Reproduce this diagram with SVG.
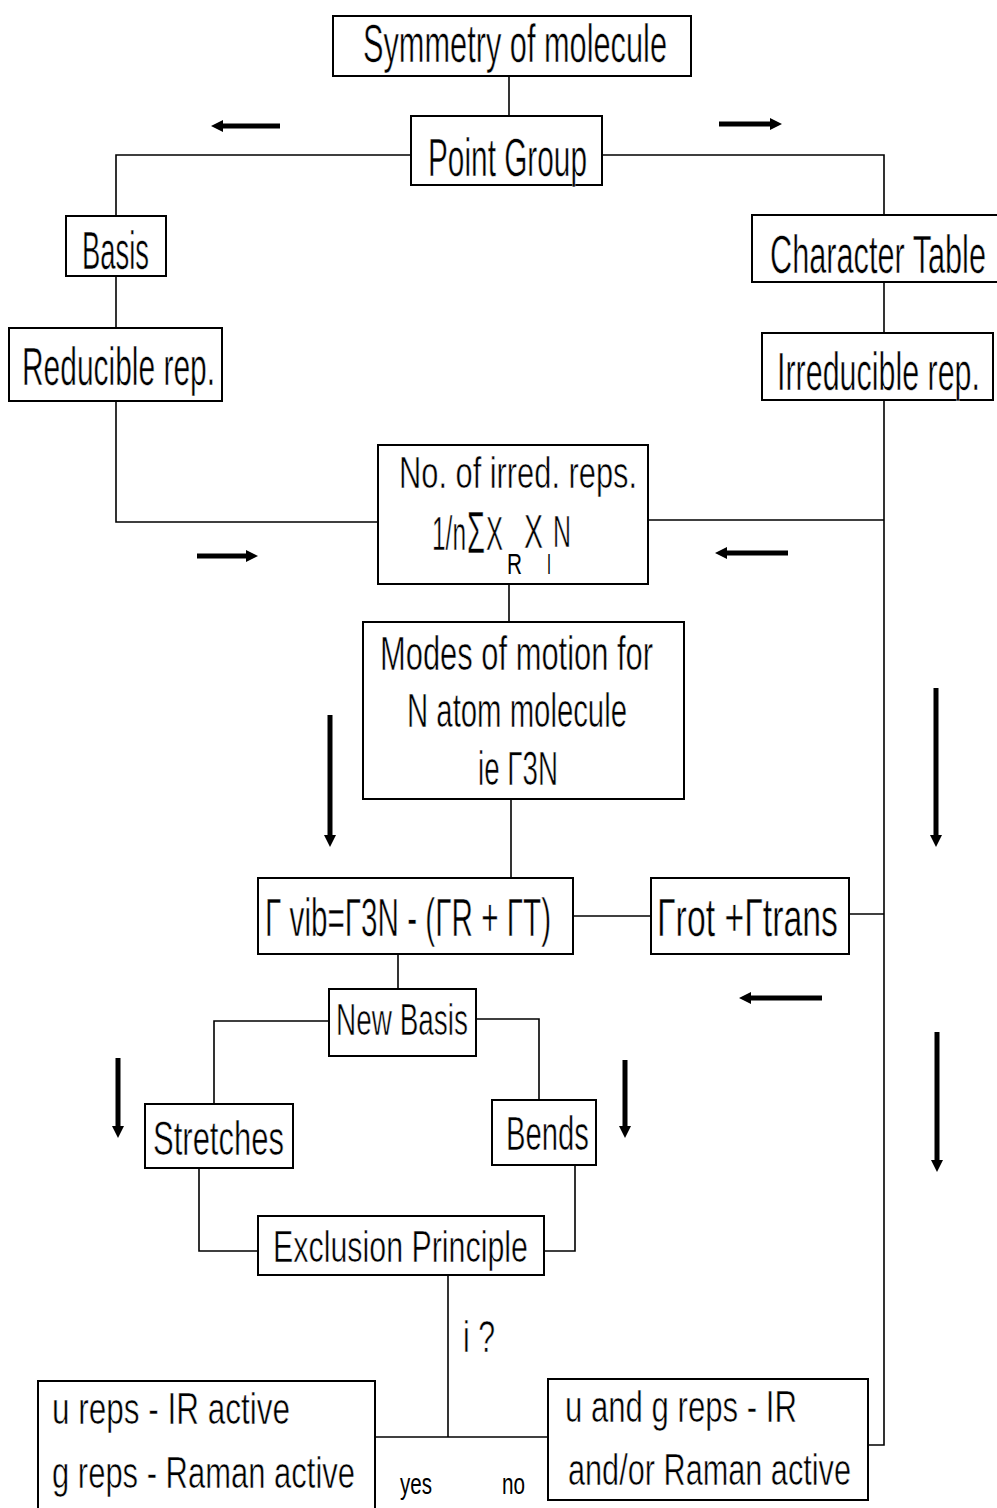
<svg xmlns="http://www.w3.org/2000/svg" width="997" height="1508" viewBox="0 0 997 1508">
<style>
.box{fill:#fff;stroke:#000;stroke-width:2}
.ln{fill:none;stroke:#000;stroke-width:1.6}
.ar{fill:none;stroke:#000;stroke-width:5}
text{font-family:"Liberation Sans",Arial,sans-serif;fill:#000;stroke:#fff;stroke-width:0.6}
.t{font-size:54px}
.m{font-size:48px}
.s{font-size:44px}
.xs{font-size:30px;stroke:none}
</style>
<defs>
<marker id="ah" markerUnits="userSpaceOnUse" markerWidth="14" markerHeight="14" refX="4" refY="7" orient="auto">
<path d="M0,1 L12,7 L0,13 Z" fill="#000"/>
</marker>
</defs>
<rect width="997" height="1508" fill="#fff"/>
<g id="connectors">
<path class="ln" d="M509,76 V116"/>
<path class="ln" d="M410,155 H116 V216"/>
<path class="ln" d="M602,155 H884 V215"/>
<path class="ln" d="M116,276 V328"/>
<path class="ln" d="M116,401 V522 H378"/>
<path class="ln" d="M884,283 V333"/>
<path class="ln" d="M884,400 V1445 H868"/>
<path class="ln" d="M884,520 H648"/>
<path class="ln" d="M884,914 H849"/>
<path class="ln" d="M509,584 V622"/>
<path class="ln" d="M511,799 V878"/>
<path class="ln" d="M573,916 H651"/>
<path class="ln" d="M398,954 V989"/>
<path class="ln" d="M329,1021 H214 V1104"/>
<path class="ln" d="M476,1019 H539 V1100"/>
<path class="ln" d="M199,1168 V1251 H258"/>
<path class="ln" d="M575,1165 V1251 H544"/>
<path class="ln" d="M448,1275 V1437"/>
<path class="ln" d="M375,1437 H548"/>
<path class="ar" d="M280,126 H219" marker-end="url(#ah)"/>
<path class="ar" d="M719,124 H774" marker-end="url(#ah)"/>
<path class="ar" d="M197,556 H250" marker-end="url(#ah)"/>
<path class="ar" d="M788,553 H723" marker-end="url(#ah)"/>
<path class="ar" d="M330,715 V839" marker-end="url(#ah)"/>
<path class="ar" d="M936,688 V839" marker-end="url(#ah)"/>
<path class="ar" d="M822,998 H747" marker-end="url(#ah)"/>
<path class="ar" d="M118,1058 V1130" marker-end="url(#ah)"/>
<path class="ar" d="M625,1060 V1130" marker-end="url(#ah)"/>
<path class="ar" d="M937,1032 V1164" marker-end="url(#ah)"/>
</g>
<g id="symmetry">
<rect class="box" x="333" y="16" width="358" height="60"/>
<text class="t" x="363" y="62" textLength="304" lengthAdjust="spacingAndGlyphs">Symmetry of molecule</text>
</g>
<g id="pointgroup">
<rect class="box" x="411" y="116" width="191" height="69"/>
<text class="t" x="428" y="176" textLength="159" lengthAdjust="spacingAndGlyphs">Point Group</text>
</g>
<g id="basis">
<rect class="box" x="66" y="216" width="100" height="60"/>
<text class="t" x="82" y="269" textLength="67" lengthAdjust="spacingAndGlyphs">Basis</text>
</g>
<g id="reducible">
<rect class="box" x="9" y="328" width="213" height="73"/>
<text class="t" x="22" y="385" textLength="193" lengthAdjust="spacingAndGlyphs">Reducible rep.</text>
</g>
<g id="chartable">
<rect class="box" x="752" y="215" width="250" height="67"/>
<text class="t" x="770" y="273" textLength="216" lengthAdjust="spacingAndGlyphs">Character Table</text>
</g>
<g id="irreducible">
<rect class="box" x="762" y="333" width="231" height="67"/>
<text class="t" x="777" y="390" textLength="203" lengthAdjust="spacingAndGlyphs">Irreducible rep.</text>
</g>
<g id="noirred">
<rect class="box" x="378" y="445" width="270" height="139"/>
<text class="s" x="399" y="488" textLength="238" lengthAdjust="spacingAndGlyphs">No. of irred. reps.</text>
<text class="m" x="432" y="550" textLength="34" lengthAdjust="spacingAndGlyphs">1/n</text>
<text class="m" x="467" y="553" textLength="18" lengthAdjust="spacingAndGlyphs" style="font-size:60px">Σ</text>
<text class="m" x="486" y="550" textLength="17" lengthAdjust="spacingAndGlyphs">X</text>
<text class="xs" x="507" y="574" textLength="15" lengthAdjust="spacingAndGlyphs">R</text>
<text class="m" x="524" y="548" textLength="19" lengthAdjust="spacingAndGlyphs">X</text>
<text class="xs" x="547" y="574" textLength="4" lengthAdjust="spacingAndGlyphs">I</text>
<text class="s" x="553" y="547" textLength="18" lengthAdjust="spacingAndGlyphs">N</text>
</g>
<g id="modes">
<rect class="box" x="363" y="622" width="321" height="177"/>
<text class="m" x="380" y="670" textLength="273" lengthAdjust="spacingAndGlyphs">Modes of motion for</text>
<text class="m" x="407" y="727" textLength="220" lengthAdjust="spacingAndGlyphs">N atom molecule</text>
<text class="m" x="478" y="785" textLength="80" lengthAdjust="spacingAndGlyphs">ie Γ3N</text>
</g>
<g id="gammavib">
<rect class="box" x="258" y="878" width="315" height="76"/>
<text class="t" x="265" y="936" textLength="286" lengthAdjust="spacingAndGlyphs">Γ vib=Γ3N - (ΓR + ΓT)</text>
</g>
<g id="rottrans">
<rect class="box" x="651" y="878" width="198" height="76"/>
<text class="t" x="657" y="936" textLength="181" lengthAdjust="spacingAndGlyphs">Γrot +Γtrans</text>
</g>
<g id="newbasis">
<rect class="box" x="329" y="989" width="147" height="67"/>
<text class="s" x="336" y="1035" textLength="132" lengthAdjust="spacingAndGlyphs">New Basis</text>
</g>
<g id="stretches">
<rect class="box" x="145" y="1104" width="148" height="64"/>
<text class="m" x="153" y="1155" textLength="131" lengthAdjust="spacingAndGlyphs">Stretches</text>
</g>
<g id="bends">
<rect class="box" x="492" y="1100" width="104" height="65"/>
<text class="m" x="506" y="1150" textLength="83" lengthAdjust="spacingAndGlyphs">Bends</text>
</g>
<g id="exclusion">
<rect class="box" x="258" y="1216" width="286" height="59"/>
<text class="s" x="273" y="1262" textLength="255" lengthAdjust="spacingAndGlyphs">Exclusion Principle</text>
</g>
<g id="question">
<text class="s" x="463" y="1352" textLength="32" lengthAdjust="spacingAndGlyphs">i ?</text>
</g>
<g id="ureps">
<rect class="box" x="38" y="1381" width="337" height="130"/>
<text class="s" x="52" y="1424" textLength="238" lengthAdjust="spacingAndGlyphs">u reps - IR active</text>
<text class="s" x="52" y="1488" textLength="303" lengthAdjust="spacingAndGlyphs">g reps - Raman active</text>
</g>
<g id="uandg">
<rect class="box" x="548" y="1379" width="320" height="121"/>
<text class="s" x="565" y="1422" textLength="232" lengthAdjust="spacingAndGlyphs">u and g reps - IR</text>
<text class="s" x="568" y="1485" textLength="283" lengthAdjust="spacingAndGlyphs">and/or Raman active</text>
</g>
<g id="labels">
<text class="xs" x="400" y="1494" textLength="32" lengthAdjust="spacingAndGlyphs">yes</text>
<text class="xs" x="502" y="1494" textLength="23" lengthAdjust="spacingAndGlyphs">no</text>
</g>
</svg>
